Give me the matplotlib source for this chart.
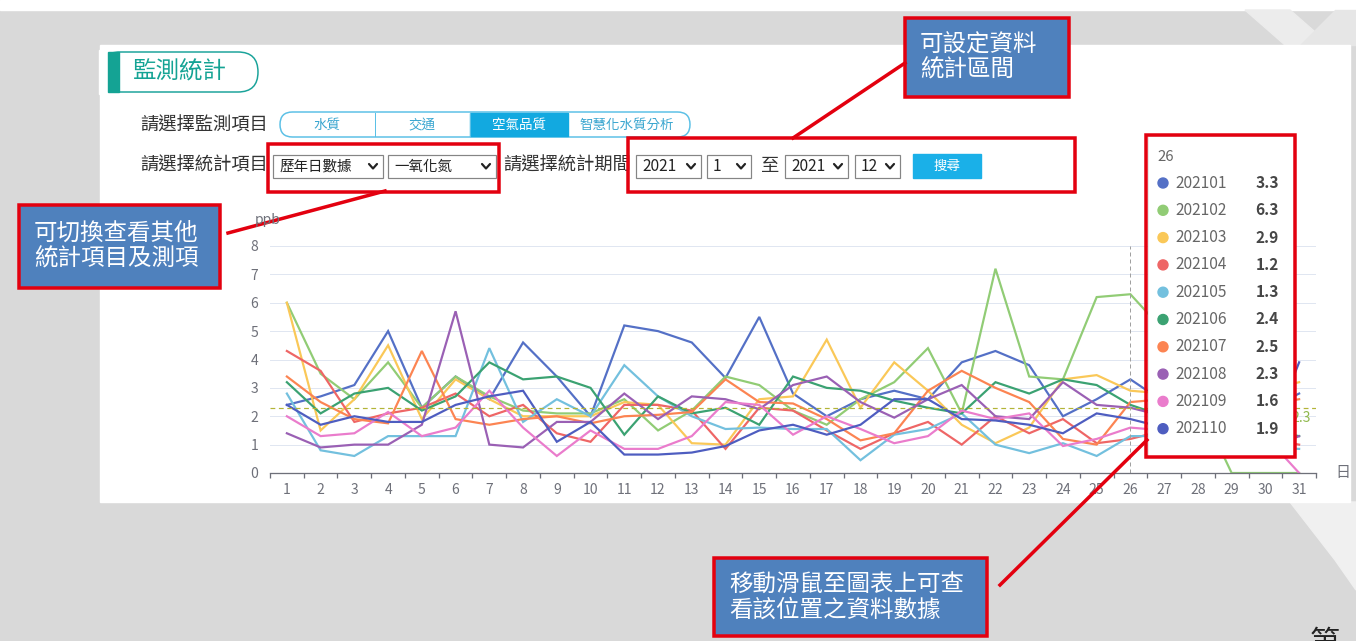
import matplotlib.pyplot as plt
from matplotlib.patches import Rectangle, FancyBboxPatch, Circle, Polygon

plt.rcParams['font.family'] = ['Noto Sans CJK TC', 'DejaVu Sans']

# ---- data ----
days = list(range(1, 32))
months = ['202101', '202102', '202103', '202104', '202105',
          '202106', '202107', '202108', '202109', '202110']
colors = ['#5470c6', '#91cc75', '#fac858', '#ee6666', '#73c0de',
          '#3ba272', '#fc8452', '#9a60b4', '#ea7ccc', '#4e5dc0']

v202101 = [2.4, 2.7, 3.1, 5.0, 2.3, 3.4, 2.6, 4.6, 3.4, 2.0, 5.2, 5.0, 4.6, 3.35, 5.5, 2.8,
           2.0, 2.6, 2.9, 2.6, 3.9, 4.3, 3.8, 2.0, 2.6, 3.3, 2.5, 2.0, 1.8, 2.2, 2.8]
v202102 = [6.0, 3.5, 2.6, 3.9, 2.3, 3.4, 2.7, 2.2, 2.1, 2.1, 2.6, 1.5, 2.2, 3.4, 3.1, 2.2,
           1.7, 2.6, 3.2, 4.4, 2.1, 7.2, 3.4, 3.3, 6.2, 6.3, 5.0, 2.5, 0.0, 0.0, 0.0]
v202103 = [6.0, 1.5, 2.6, 4.5, 1.9, 3.3, 2.6, 2.0, 2.0, 2.0, 2.5, 2.4, 1.05, 1.0, 2.6, 2.7,
           4.7, 2.3, 3.9, 2.9, 1.7, 1.05, 1.6, 3.3, 3.45, 2.9, 2.8, 2.5, 2.6, 2.9, 3.2]
v202104 = [4.3, 3.6, 1.8, 2.1, 2.3, 2.8, 2.0, 2.4, 1.4, 1.1, 2.4, 2.4, 2.2, 0.85, 2.3, 2.2,
           1.5, 0.85, 1.4, 1.8, 1.0, 2.0, 1.4, 1.9, 1.05, 1.2, 1.5, 1.8, 1.4, 1.2, 1.0]
v202105 = [2.8, 0.8, 0.6, 1.3, 1.3, 1.3, 4.4, 1.8, 2.6, 2.0, 3.8, 2.7, 2.0, 1.55, 1.6, 1.55,
           1.55, 0.45, 1.35, 1.55, 2.1, 1.0, 0.7, 1.05, 0.6, 1.3, 1.3, 1.0, 0.9, 0.9, 0.85]
v202106 = [3.2, 2.1, 2.8, 3.0, 2.2, 2.7, 3.9, 3.3, 3.4, 3.0, 1.35, 2.7, 2.1, 2.3, 1.7, 3.4,
           3.0, 2.9, 2.55, 2.3, 2.1, 3.2, 2.8, 3.3, 3.1, 2.4, 2.0, 1.8, 1.6, 1.5, 1.3]
v202107 = [3.4, 2.5, 1.9, 1.75, 4.3, 1.9, 1.7, 1.9, 2.0, 1.75, 2.0, 2.05, 2.15, 3.3, 2.5, 2.45,
           1.9, 1.15, 1.4, 2.9, 3.6, 3.0, 2.5, 1.2, 1.0, 2.5, 2.6, 2.4, 2.3, 2.4, 2.6]
v202108 = [1.4, 0.9, 1.0, 1.0, 1.7, 5.7, 1.0, 0.9, 1.8, 1.8, 2.8, 1.9, 2.7, 2.6, 2.25, 3.1,
           3.4, 2.5, 1.95, 2.6, 3.1, 2.0, 1.9, 3.2, 2.4, 2.3, 2.0, 1.5, 0.8, 0.8, 1.3]
v202109 = [2.0, 1.3, 1.4, 2.15, 1.3, 1.6, 2.9, 1.6, 0.6, 1.5, 0.85, 0.85, 1.3, 2.5, 2.4, 1.35,
           2.0, 1.55, 1.05, 1.3, 2.2, 1.9, 2.1, 0.95, 1.2, 1.6, 1.5, 1.3, 1.2, 1.3, 0.0]
v202110 = [2.4, 1.7, 2.0, 1.8, 1.8, 2.4, 2.7, 2.9, 1.1, 1.8, 0.65, 0.65, 0.72, 0.95, 1.5, 1.7,
           1.35, 1.7, 2.6, 2.6, 1.9, 1.85, 1.7, 1.4, 2.1, 1.9, 1.6, 1.2, 0.85, 0.9, 3.9]
series = [v202101, v202102, v202103, v202104, v202105,
          v202106, v202107, v202108, v202109, v202110]

avg_value = 2.3
hover_day = 26
y_ticks = list(range(0, 9))

W, H = 1356, 641
fig = plt.figure(figsize=(W / 100, H / 100), dpi=100)

def px(v):  # pixel -> points
    return v * 72 / 100

# ---- background / page ----
bg = fig.add_axes([0, 0, 1, 1], zorder=0)
bg.set_xlim(0, W)
bg.set_ylim(H, 0)
bg.axis('off')
bg.add_patch(Rectangle((0, 0), W, H, color='#d9d9d9'))
bg.add_patch(Rectangle((0, 0), W, 10, color='#ffffff'))
bg.add_patch(Polygon([(1245, 10), (1290, 10), (1330, 45), (1285, 45)], color='#ececec'))
bg.add_patch(Polygon([(1300, 45), (1356, 45), (1356, 10), (1335, 10)], color='#e6e6e6'))
bg.add_patch(Polygon([(1290, 502), (1356, 502), (1356, 590), (1335, 560)], color='#f0f0f0'))
bg.add_patch(Rectangle((100, 45), 1250, 457, color='#ffffff'))
bg.text(1310, 643, '第', fontsize=px(30), color='#222222', va='center', ha='left')

# title pill
bg.add_patch(FancyBboxPatch((100, 52), 158, 40, boxstyle='round,pad=0,rounding_size=20',
                            facecolor='white', edgecolor='#1aa39a', linewidth=px(1.5)))
bg.add_patch(Rectangle((99, 50), 9, 44, color='white'))
bg.add_patch(Rectangle((108, 52), 11, 40, color='#14a394'))
bg.text(133, 72, '監測統計', fontsize=px(23.5), color='#14a394', va='center', ha='left')

# row 1: monitoring items
bg.text(140, 125, '請選擇監測項目', fontsize=px(18.3), color='#333333', va='center')
bg.add_patch(FancyBboxPatch((280, 112), 410, 25, boxstyle='round,pad=0,rounding_size=12.5',
                            facecolor='white', edgecolor='#5bc0e6', linewidth=px(1.5)))
bg.add_patch(Rectangle((470, 112.8), 98, 23.4, color='#12a9e0'))
for xs in (375, 470):
    bg.plot([xs, xs], [113, 136], color='#5bc0e6', lw=px(1))
tabs = [('水質', 327, '#3aa6d0'), ('交通', 422, '#3aa6d0'),
        ('空氣品質', 519, '#ffffff'), ('智慧化水質分析', 627, '#3aa6d0')]
for t, xc, c in tabs:
    bg.text(xc, 125, t, fontsize=px(13.5), color=c, ha='center', va='center')

# row 2: statistic items and period
bg.text(140, 166, '請選擇統計項目', fontsize=px(18.3), color='#333333', va='center')
bg.text(503, 166, '請選擇統計期間', fontsize=px(18.3), color='#333333', va='center')
bg.text(761, 166, '至', fontsize=px(18.3), color='#333333', va='center')

def select(x0, x1, label, fs=15.5):
    bg.add_patch(Rectangle((x0, 155), x1 - x0, 23, facecolor='white',
                           edgecolor='#858585', linewidth=px(1.2)))
    bg.text(x0 + 6, 166.5, label, fontsize=px(fs), color='#222222', va='center')
    cx = x1 - 10
    bg.plot([cx - 4, cx, cx + 4], [164, 168.5, 164], color='#222222', lw=px(2.2),
            solid_capstyle='round', solid_joinstyle='round')

select(273, 383, '歷年日數據', 14.5)
select(388, 496, '一氧化氮', 14.5)
select(636, 701, '2021')
select(707, 751, '1')
select(785, 848, '2021')
select(855, 900, '12')
bg.add_patch(Rectangle((913, 154), 68, 24, color='#1ab0e8'))
bg.text(947, 166, '搜尋', fontsize=px(13.5), color='white', ha='center', va='center')

# ---- chart ----
x0, x1, ytop, ybot = 270, 1316, 246, 473
ax = fig.add_axes([x0 / W, (H - ybot) / H, (x1 - x0) / W, (ybot - ytop) / H], zorder=1)
ax.set_facecolor('none')
ax.set_xlim(0.5, 31.5)
ax.set_ylim(0, 8)
for sp in ('top', 'right', 'left'):
    ax.spines[sp].set_visible(False)
ax.spines['bottom'].set_color('#6e7079')
ax.spines['bottom'].set_linewidth(px(1.3))
ax.set_yticks(y_ticks)
ax.yaxis.grid(True, color='#e0e6f1', linewidth=px(1))
ax.set_axisbelow(True)
ax.tick_params(axis='y', length=0, pad=px(12), labelsize=px(14), labelcolor='#6e7079')
ax.set_xticks([d + 0.5 for d in [0] + days])
ax.set_xticklabels([])
ax.set_xticks(days, minor=True)
ax.set_xticklabels([str(d) for d in days], minor=True)
ax.tick_params(axis='x', which='major', length=px(5), color='#6e7079', width=px(1.3))
ax.tick_params(axis='x', which='minor', length=0, pad=px(10), labelsize=px(14),
               labelcolor='#6e7079')

for vals, c in zip(series, colors):
    ax.plot(days, vals, color=c, linewidth=px(2.2), solid_joinstyle='miter')
ax.axhline(avg_value, color='#b3b437', linewidth=px(1.2), linestyle=(0, (4, 3)))
ax.axvline(hover_day, color='#a0a0a0', linewidth=px(1), linestyle=(0, (4, 3)))
ax.text(31.05, avg_value - 0.12, f'{avg_value}', color='#8fb84c', fontsize=px(14),
        ha='center', va='top')

# ---- overlay: tooltip & callouts ----
ov = fig.add_axes([0, 0, 1, 1], zorder=3)
ov.set_xlim(0, W)
ov.set_ylim(H, 0)
ov.axis('off')
ov.text(268, 220, 'ppb', fontsize=px(14), color='#6e7079', ha='center', va='center')
ov.text(1343, 473, '日', fontsize=px(15), color='#6e7079', ha='center', va='center')

ov.add_patch(Rectangle((1148, 136), 146, 320, facecolor='white', edgecolor='#e8e8e8',
                       linewidth=px(1)))
ov.text(1157, 157, str(hover_day), fontsize=px(15), color='#666666', va='center')
for i, (m, c, vals) in enumerate(zip(months, colors, series)):
    y = 183 + i * 27.3
    ov.add_patch(Circle((1163, y), 5, color=c))
    ov.text(1175, y, m, fontsize=px(15.5), color='#666666', va='center')
    ov.text(1279, y, f'{vals[hover_day - 1]:.1f}', fontsize=px(15.5), color='#464646',
            fontweight='bold', va='center', ha='right')

red = '#e3000f'
for (rx, ry, rw, rh) in [(268, 144, 231, 48), (628, 138, 447, 54), (1146, 135, 149, 322)]:
    ov.add_patch(Rectangle((rx, ry), rw, rh, fill=False, edgecolor=red, linewidth=px(3.5)))

ov.plot([228, 385], [233, 191], color=red, lw=px(3.5))
ov.plot([793, 905], [138, 63], color=red, lw=px(3.5))
ov.plot([1000, 1147], [585, 440], color=red, lw=px(3.5))

callouts = [
    (19, 205, 201, 83, '可切換查看其他\n統計項目及測項'),
    (905, 18, 164, 79, '可設定資料\n統計區間'),
    (714, 558, 273, 78, '移動滑鼠至圖表上可查\n看該位置之資料數據'),
]
for bx, by, bw, bh, txt in callouts:
    ov.add_patch(Rectangle((bx, by), bw, bh, facecolor='#4f81bd', edgecolor=red,
                           linewidth=px(3.5)))
    ov.text(bx + 15, by + bh / 2, txt, fontsize=px(23.5), color='white', va='center',
            ha='left', linespacing=1.15)

fig.savefig('out.png', dpi=100)
